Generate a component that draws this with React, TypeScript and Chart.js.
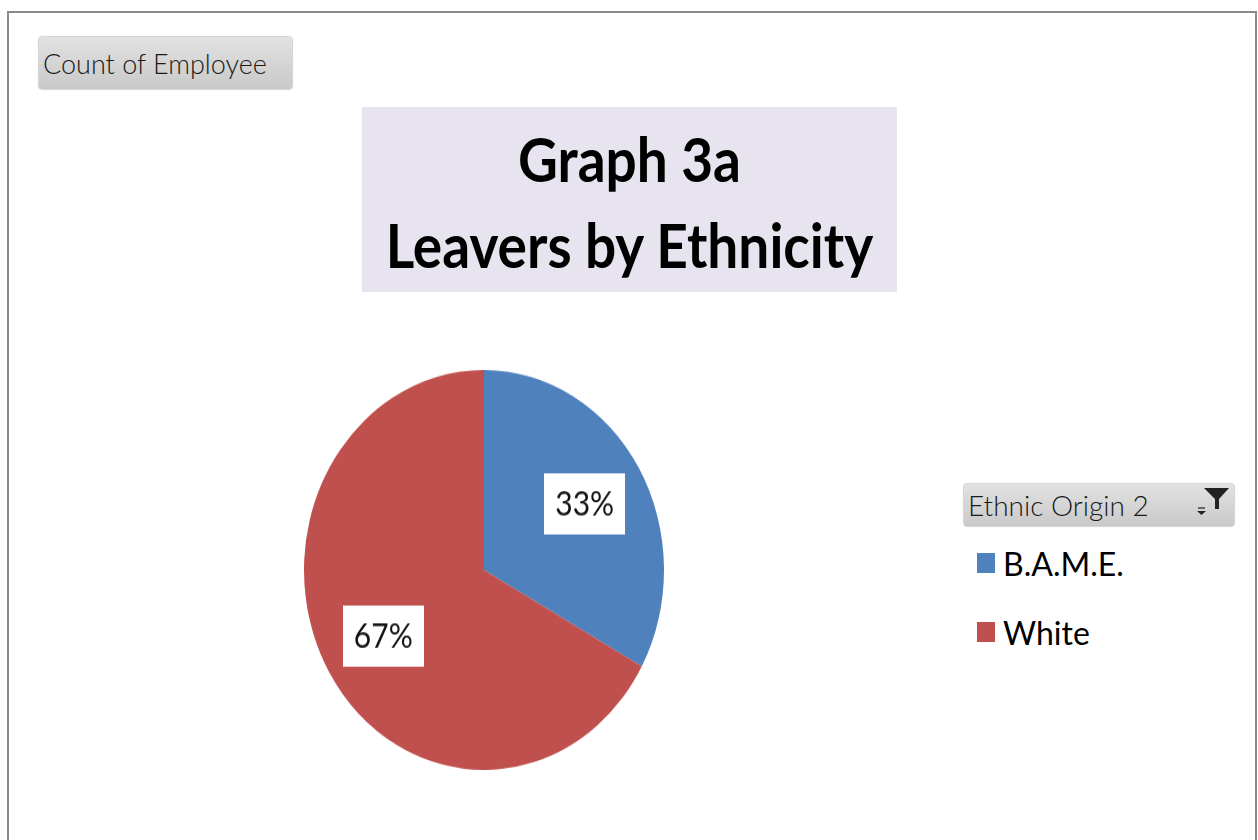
import React, { useEffect, useRef } from "react";
import { Chart, registerables } from "chart.js";

Chart.register(...registerables);

const categories = ["B.A.M.E.", "White"];
const leaverPercent = [33, 67];
const sliceColors = ["#4F81BD", "#C0504D"];
const chartTitle = ["Graph 3a", "Leavers by Ethnicity"];
const valueFieldLabel = "Count of Employee";
const legendFieldLabel = "Ethnic Origin 2";

const STRETCH = 400 / 360;

const labelPlugin = {
  id: "boxLabels",
  afterDatasetsDraw(chart: any) {
    const ctx = chart.ctx;
    const meta = chart.getDatasetMeta(0);
    const data = chart.data.datasets[0].data as number[];
    const total = data.reduce((a, b) => a + b, 0);
    meta.data.forEach((arc: any, i: number) => {
      const p = arc.getProps(["x", "y", "startAngle", "endAngle", "outerRadius"], true);
      const mid = (p.startAngle + p.endAngle) / 2;
      const r = p.outerRadius * 0.65;
      const cx = p.x + Math.cos(mid) * r;
      const cy = p.y + Math.sin(mid) * r;
      const w = 81;
      const h = 55;
      ctx.save();
      ctx.fillStyle = "#ffffff";
      ctx.fillRect(Math.round(cx - w / 2), Math.round(cy - h / 2), w, h);
      ctx.fillStyle = "#111111";
      ctx.font = "30px Lato, 'Open Sans', sans-serif";
      ctx.textAlign = "center";
      ctx.textBaseline = "middle";
      ctx.fillText(Math.round((data[i] / total) * 100) + "%", cx, cy + 1);
      ctx.restore();
    });
  },
};

function PieCanvas() {
  const ref = useRef<HTMLCanvasElement | null>(null);
  useEffect(() => {
    if (!ref.current) return;
    const chart = new Chart(ref.current, {
      type: "pie",
      data: {
        labels: categories,
        datasets: [
          {
            data: leaverPercent,
            backgroundColor: sliceColors,
            borderWidth: 0,
          },
        ],
      },
      options: {
        animation: false,
        responsive: false,
        devicePixelRatio: 1,
        layout: { padding: 0 },
        plugins: {
          legend: { display: false },
          title: { display: false },
          tooltip: { enabled: false },
        },
      },
      plugins: [labelPlugin],
    });
    return () => chart.destroy();
  }, []);
  return (
    <div
      style={{
        position: "absolute",
        left: 304,
        top: 370,
        width: 360,
        height: 360,
        transform: `scaleY(${STRETCH})`,
        transformOrigin: "0 0",
      }}
    >
      <canvas ref={ref} width={360} height={360} style={{ width: 360, height: 360, display: "block" }} />
    </div>
  );
}

const buttonStyle: React.CSSProperties = {
  position: "absolute",
  background: "linear-gradient(#e2e2e2, #c9c9c9)",
  border: "1px solid #d6d6d6",
  borderRadius: 4,
  boxShadow: "0 0 2px #eeeeee",
  fontFamily: "Lato, 'DejaVu Sans', sans-serif",
  fontWeight: 300,
  color: "#1a1a1a",
  boxSizing: "border-box",
  display: "flex",
  alignItems: "center",
  whiteSpace: "nowrap",
};

export default function App() {
  return (
    <div
      style={{
        position: "absolute",
        left: 0,
        top: 0,
        width: 1258,
        height: 840,
        background: "#ffffff",
        overflow: "hidden",
      }}
    >
      <div
        style={{
          position: "absolute",
          left: 7,
          top: 11,
          width: 1250,
          height: 900,
          border: "2px solid #8a8a8a",
          boxSizing: "border-box",
        }}
      />
      <div style={{ ...buttonStyle, left: 38, top: 36, width: 255, height: 54, paddingLeft: 4, fontSize: 27 }}>
        {valueFieldLabel}
      </div>
      <div
        style={{
          position: "absolute",
          left: 362,
          top: 107,
          width: 535,
          height: 185,
          background: "#e8e4ef",
        }}
      />
      {chartTitle.map((t, i) => (
        <div
          key={t}
          style={{
            position: "absolute",
            left: 362,
            width: 535,
            top: 124 + i * 86,
            height: 70,
            lineHeight: "70px",
            textAlign: "center",
            fontFamily: "Lato, 'Open Sans', sans-serif",
            fontWeight: 700,
            fontSize: 55,
            color: "#000",
            transform: `scaleY(${STRETCH})`,
            whiteSpace: "nowrap",
          }}
        >
          {t}
        </div>
      ))}
      <PieCanvas />
      <div style={{ ...buttonStyle, left: 963, top: 483, width: 272, height: 44, paddingLeft: 4, fontSize: 28 }}>
        {legendFieldLabel}
        <svg
          width="40"
          height="34"
          viewBox="0 0 40 34"
          style={{ position: "absolute", left: 232, top: 1 }}
        >
          <path d="M8 3 L33 3 L23 14 L23 24 L19 24 L19 14 Z" fill="#222" />
          <path d="M1 26 L10 26 L5.5 30 Z" fill="#222" />
          <rect x="2" y="22" width="7" height="2" fill="#666" />
        </svg>
      </div>
      {categories.map((c, i) => (
        <div
          key={c}
          style={{
            position: "absolute",
            left: 977,
            top: 543 + i * 69,
            height: 40,
            display: "flex",
            alignItems: "center",
            fontFamily: "Lato, 'Open Sans', sans-serif",
            fontSize: 32,
            color: "#000",
            whiteSpace: "nowrap",
          }}
        >
          <span
            style={{
              display: "inline-block",
              width: 18,
              height: 20,
              background: sliceColors[i],
              marginRight: 8,
            }}
          />
          {c}
        </div>
      ))}
    </div>
  );
}
